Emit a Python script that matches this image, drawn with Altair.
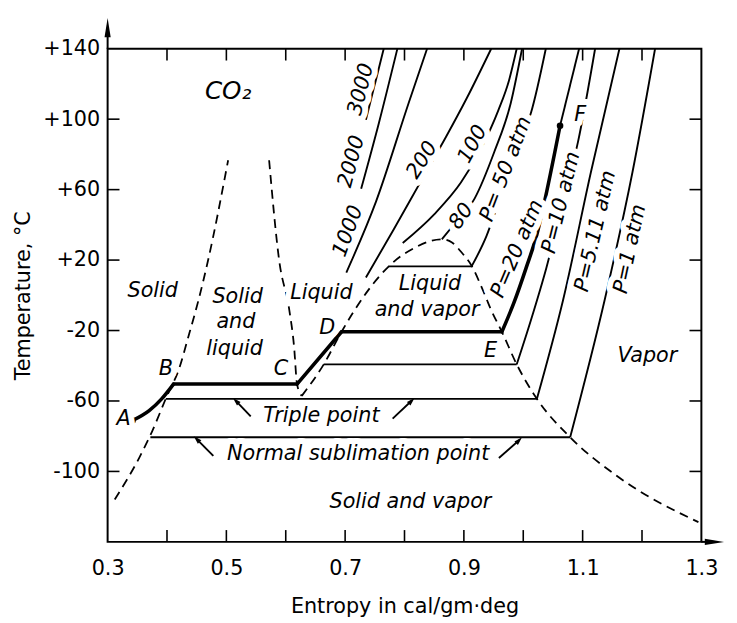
import altair as alt
import pandas as pd

# ---------------- values (entropy s, temperature t) -------------
# dashed boundaries
solid_bnd_s = [0.312, 0.353, 0.375, 0.400, 0.420, 0.436, 0.453, 0.469, 0.503]
solid_bnd_t = [-115.9, -92.4, -77.2, -57.1, -42.0, -23.5, -2.8, 19.6, 76.7]
melt_liq_s = [0.572, 0.589, 0.606, 0.614, 0.619, 0.627]
melt_liq_t = [76.7, 19.6, -8.4, -29.1, -50.4, -57.1]
dome_s = [0.627, 0.664, 0.694, 0.735, 0.780, 0.820, 0.845, 0.863, 0.880, 0.897, 0.913,
          0.930, 0.946, 0.964, 0.989, 1.023, 1.079, 1.162, 1.295]
dome_t = [-57.1, -39.2, -20.7, 1.1, 18.5, 27.5, 31.0, 31.8, 30.0, 24.0, 16.8,
          4.5, -8.4, -20.7, -39.2, -58.8, -80.6, -103.6, -128.8]

# horizontal lines
triple_s = [0.398, 1.023]
triple_t = [-58.8, -58.8]
sublim_s = [0.372, 1.079]
sublim_t = [-80.6, -80.6]
p10_flat_s = [0.664, 0.989]
p10_flat_t = [-39.2, -39.2]
p50_flat_s = [0.773, 0.913]
p50_flat_t = [16.4, 16.4]

# isobars (thin)
p1_s = [1.079, 1.137, 1.184, 1.222]
p1_t = [-80.6, -2.8, 70.0, 140.0]
p511_s = [1.023, 1.067, 1.114, 1.162]
p511_t = [-58.8, -2.8, 70.0, 140.0]
p10_s = [0.989, 1.013, 1.039, 1.067, 1.092, 1.121]
p10_t = [-39.2, -14.0, 15.7, 53.2, 86.8, 140.0]
p20_top_s = [1.062, 1.094]
p20_top_t = [96.3, 140.0]
p50_s = [0.913, 0.938, 0.959, 0.981, 0.998, 1.013, 1.038]
p50_t = [16.4, 33.6, 53.2, 72.8, 89.6, 103.6, 140.0]
p80_s = [0.863, 0.885, 0.918, 0.951, 0.979, 0.998]
p80_t = [31.8, 40.9, 54.9, 81.2, 109.2, 140.0]
p100_s = [0.797, 0.850, 0.895, 0.930, 0.958, 0.976, 0.989]
p100_t = [29.7, 46.0, 64.0, 84.0, 105.0, 122.0, 140.0]
p200_s = [0.735, 0.782, 0.827, 0.870, 0.905, 0.946]
p200_t = [10.1, 37.5, 64.4, 90.0, 112.0, 140.0]
p1000_s = [0.702, 0.752, 0.807, 0.838]
p1000_t = [12.9, 53.2, 109.2, 140.0]
p2000_s = [0.727, 0.757, 0.788]
p2000_t = [60.5, 98.0, 140.0]
p3000_s = [0.735, 0.765]
p3000_t = [99.7, 140.0]

# heavy path A-B-C-D-E-F (P = 20 atm)
ab_s = [0.342, 0.370, 0.391, 0.411]
ab_t = [-71.1, -65.5, -58.8, -50.4]
bc_s = [0.411, 0.619]
bc_t = [-50.4, -50.4]
cd_s = [0.619, 0.694]
cd_t = [-50.4, -20.7]
de_s = [0.694, 0.964]
de_t = [-20.7, -20.7]
ef_s = [0.964, 0.984, 1.005, 1.023, 1.034, 1.062]
ef_t = [-20.7, -4.5, 15.7, 34.7, 50.4, 96.3]

# little pointer arrows (tail -> tip)
ptr_tail_s = [0.541, 0.780, 0.478, 0.959]
ptr_tail_t = [-68.8, -70.0, -91.2, -92.4]
ptr_tip_s = [0.516, 0.812, 0.450, 0.993]
ptr_tip_t = [-59.9, -59.9, -81.7, -82.3]
ptr_angle = [315, 45, 315, 45]

# marked state points (A and F)
dot_s = [0.342, 1.062]
dot_t = [-71.1, 96.3]

# axis ticks
x_ticks = [0.4, 0.5, 0.6, 0.7, 0.8, 0.9, 1.0, 1.1, 1.2]
y_ticks = [-100, -60, -20, 20, 60, 100]
x_labels = [0.3, 0.5, 0.7, 0.9, 1.1, 1.3]
y_labels = [-100, -60, -20, 20, 60, 100, 140]

# text labels
lab_text = ["CO₂", "Solid", "Solid", "and", "liquid", "Liquid", "Liquid", "and vapor",
            "Vapor", "Triple point", "Normal sublimation point", "Solid and vapor",
            "A", "B", "C", "D", "E", "F",
            "3000", "2000", "1000", "200", "100", "80",
            "P= 50 atm", "P=20 atm", "P=10 atm", "P=5.11 atm", "P=1 atm"]
lab_s = [0.503, 0.376, 0.519, 0.516, 0.514, 0.660, 0.843, 0.838,
         1.209, 0.660, 0.722, 0.810,
         0.327, 0.398, 0.592, 0.670, 0.945, 1.096,
         0.727, 0.711, 0.705, 0.830, 0.915, 0.896,
         0.971, 0.990, 1.064, 1.122, 1.180]
lab_t = [116.0, 2.3, -1.1, -15.1, -30.8, 1.1, 6.2, -8.4,
         -34.7, -68.3, -90.1, -117.6,
         -70.0, -42.0, -42.0, -18.5, -31.9, 102.5,
         117.0, 76.0, 36.4, 76.7, 85.7, 44.8,
         71.7, 26.3, 52.6, 36.4, 26.3]
lab_size = [25, 21, 21, 21, 21, 21, 21, 21,
            21, 21, 21, 21,
            21, 21, 21, 21, 21, 21,
            21, 21, 21, 21, 21, 21,
            21, 21, 21, 21, 21]
lab_angle = [0, 0, 0, 0, 0, 0, 0, 0,
             0, 0, 0, 0,
             0, 0, 0, 0, 0, 0,
             284, 285, 290, 302, 298, 305,
             291, 293, 284, 283, 282]

# ---------------- tables ----------------
rows = []


def add(kind, seg, s_list, t_list):
    for i, (s, t) in enumerate(zip(s_list, t_list)):
        rows.append({"kind": kind, "seg": seg, "i": i, "s": s, "t": t})


add("dash", "solid_bnd", solid_bnd_s, solid_bnd_t)
add("dash", "melt_liq", melt_liq_s, melt_liq_t)
add("dash", "dome", dome_s, dome_t)
for name, ss, tt in [("triple", triple_s, triple_t), ("sublim", sublim_s, sublim_t),
                     ("p10f", p10_flat_s, p10_flat_t), ("p50f", p50_flat_s, p50_flat_t),
                     ("p1", p1_s, p1_t), ("p511", p511_s, p511_t), ("p10", p10_s, p10_t),
                     ("p20top", p20_top_s, p20_top_t), ("p50", p50_s, p50_t),
                     ("p80", p80_s, p80_t), ("p100", p100_s, p100_t), ("p200", p200_s, p200_t),
                     ("p1000", p1000_s, p1000_t), ("p2000", p2000_s, p2000_t),
                     ("p3000", p3000_s, p3000_t)]:
    add("thin", name, ss, tt)
for k in range(len(ptr_tail_s)):
    add("thin", f"ptr{k}", [ptr_tail_s[k], ptr_tip_s[k]], [ptr_tail_t[k], ptr_tip_t[k]])
for name, ss, tt in [("ab", ab_s, ab_t), ("bc", bc_s, bc_t), ("cd", cd_s, cd_t),
                     ("de", de_s, de_t), ("ef", ef_s, ef_t)]:
    add("thick", name, ss, tt)
lines = pd.DataFrame(rows)

# rules: ticks and axis extension arrows
rule_rows = []
for v in x_ticks:
    rule_rows.append({"s": v, "s2": v, "t": -140, "t2": -133.3, "w": 1.6})
    rule_rows.append({"s": v, "s2": v, "t": 140, "t2": 133.3, "w": 1.6})
for v in y_ticks:
    rule_rows.append({"s": 0.3, "s2": 0.32, "t": v, "t2": v, "w": 1.6})
    rule_rows.append({"s": 1.3, "s2": 1.28, "t": v, "t2": v, "w": 1.6})
rule_rows.append({"s": 0.3, "s2": 0.3, "t": 140, "t2": 152, "w": 2})
rule_rows.append({"s": 1.3, "s2": 1.322, "t": -140, "t2": -140, "w": 2})
rules = pd.DataFrame(rule_rows)

heads = pd.DataFrame({"s": ptr_tip_s, "t": ptr_tip_t, "ang": ptr_angle})
axis_heads = pd.DataFrame({"s": [0.3, 1.322], "t": [152.0, -140.0], "ang": [0, 90]})
dots = pd.DataFrame({"s": dot_s, "t": dot_t})
labels = pd.DataFrame({"s": lab_s, "t": lab_t, "text": lab_text, "angle": lab_angle,
                       "fs": lab_size})

# ---------------- encodings ----------------
FONT = "DejaVu Sans"
xscale = alt.Scale(domain=[0.3, 1.3], nice=False, zero=False)
yscale = alt.Scale(domain=[-140, 140], nice=False, zero=False)
xaxis = alt.Axis(values=x_labels, format=".1f", ticks=False, domain=False, grid=False,
                 labelFlush=False, labelOverlap=False, labelPadding=16,
                 labelFont=FONT, labelFontSize=21, labelColor="black",
                 titleFont=FONT, titleFontSize=21, titleFontWeight="normal",
                 titleColor="black", titlePadding=18)
yaxis = alt.Axis(values=y_labels, labelExpr="(datum.value > 0 ? '+' : '') + datum.value",
                 ticks=False, domain=False, grid=False, labelOverlap=False,
                 labelPadding=8, labelFont=FONT, labelFontSize=21, labelColor="black",
                 titleFont=FONT, titleFontSize=21, titleFontWeight="normal",
                 titleColor="black", titlePadding=10, minExtent=65, maxExtent=65)


def X(field="s"):
    return alt.X(f"{field}:Q", scale=xscale, axis=xaxis, title="Entropy in cal/gm·deg")


def Y(field="t"):
    return alt.Y(f"{field}:Q", scale=yscale, axis=yaxis, title="Temperature, °C")


dashed = alt.Chart(lines).transform_filter(alt.datum.kind == "dash").mark_line(
    color="black", strokeWidth=1.8, strokeDash=[9, 6], interpolate="monotone"
).encode(x=X(), y=Y(), detail="seg:N", order="i:Q")

thin = alt.Chart(lines).transform_filter(alt.datum.kind == "thin").mark_line(
    color="black", strokeWidth=1.9, interpolate="monotone"
).encode(x=X(), y=Y(), detail="seg:N", order="i:Q")

thick = alt.Chart(lines).transform_filter(alt.datum.kind == "thick").mark_line(
    color="black", strokeWidth=3.6, interpolate="monotone", strokeCap="round"
).encode(x=X(), y=Y(), detail="seg:N", order="i:Q")

rule_layer = alt.Chart(rules).mark_rule(color="black").encode(
    x=X(), x2="s2:Q", y=Y(), y2="t2:Q", strokeWidth=alt.StrokeWidth("w:Q", scale=None)
)

head_layer = alt.Chart(heads).mark_point(
    shape="M0,-1L0.6,1L-0.6,1Z", filled=True, color="black", size=70, opacity=1
).encode(x=X(), y=Y(), angle=alt.Angle("ang:Q", scale=None))

axis_head_layer = alt.Chart(axis_heads).mark_point(
    shape="M0,-1L0.32,1L-0.32,1Z", filled=True, color="black", size=380, opacity=1
).encode(x=X(), y=Y(), angle=alt.Angle("ang:Q", scale=None))

dot_layer = alt.Chart(dots).mark_point(filled=True, color="black", size=45, opacity=1).encode(
    x=X(), y=Y()
)

halo = alt.Chart(labels).mark_text(
    font=FONT, fontStyle="italic", align="center", baseline="middle",
    color="white", stroke="white", strokeWidth=12, strokeJoin="round"
).encode(x=X(), y=Y(), text="text:N", angle=alt.Angle("angle:Q", scale=None),
         size=alt.Size("fs:Q", scale=None))

text = alt.Chart(labels).mark_text(
    font=FONT, fontStyle="italic", align="center", baseline="middle", color="black"
).encode(x=X(), y=Y(), text="text:N", angle=alt.Angle("angle:Q", scale=None),
         size=alt.Size("fs:Q", scale=None))

chart = alt.layer(
    dashed, thin, thick, rule_layer, head_layer, axis_head_layer, dot_layer, halo, text
).properties(
    width=602, height=500,
    padding={"left": 5, "top": 5, "right": 5, "bottom": 5},
    background="white",
).configure_view(stroke="black", strokeWidth=2)

chart.save("out.html", embed_options={"renderer": "svg", "actions": False})
